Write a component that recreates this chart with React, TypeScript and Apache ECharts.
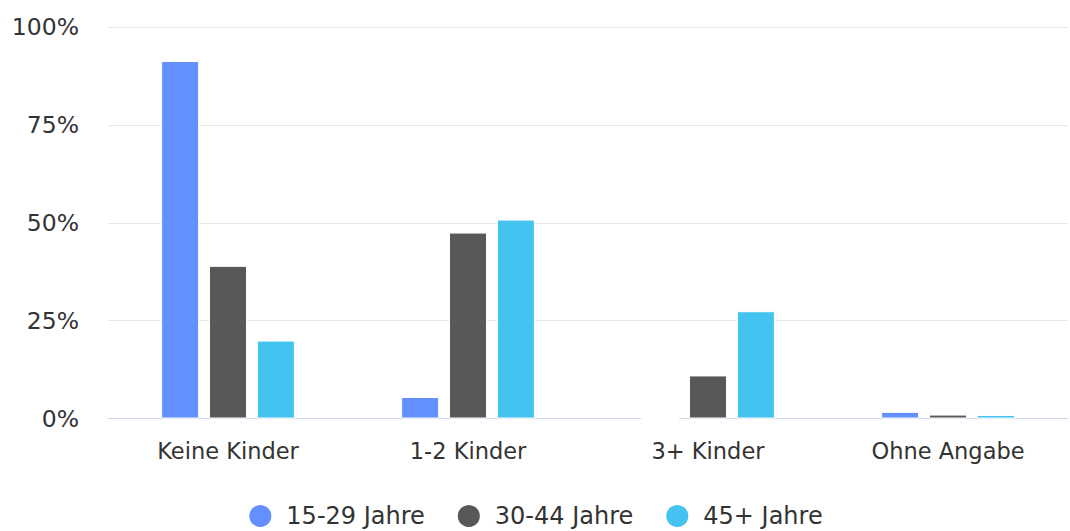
import React, { useEffect, useRef } from "react";
import * as echarts from "echarts";

const categories = ["Keine Kinder", "1-2 Kinder", "3+ Kinder", "Ohne Angabe"];
const seriesNames = ["15-29 Jahre", "30-44 Jahre", "45+ Jahre"];
const values1529 = [91.3, 5.5, 0, 1.7];
const values3044 = [39.0, 47.5, 11.0, 1.0];
const values45 = [19.9, 50.8, 27.4, 0.9];
const colors = ["#638FFF", "#58585A", "#45C3F0"];
const yTicks = [0, 25, 50, 75, 100];

export default function App() {
  const ref = useRef<HTMLDivElement>(null);
  useEffect(() => {
    if (!ref.current) return;
    const chart = echarts.init(ref.current, undefined, { renderer: "svg" });
    const font = "DejaVu Sans";
    const data = [values1529, values3044, values45];
    chart.setOption({
      animation: false,
      textStyle: { fontFamily: font },
      grid: { left: 108, right: 2, top: 27, bottom: 112.5, containLabel: false },
      legend: {
        bottom: -3,
        left: "center",
        icon: "circle",
        itemWidth: 42,
        itemHeight: 24,
        itemGap: 31,
        textStyle: { fontSize: 24, color: "#333333", fontFamily: font },
        data: seriesNames,
      },
      xAxis: {
        type: "category",
        data: categories,
        axisLine: { lineStyle: { color: "#ccd6eb", width: 1 } },
        axisTick: { show: false },
        axisLabel: { fontSize: 22.5, color: "#333333", margin: 21, fontFamily: font },
      },
      yAxis: {
        type: "value",
        min: yTicks[0],
        max: yTicks[yTicks.length - 1],
        interval: 25,
        axisLine: { show: false },
        axisTick: { show: false },
        splitLine: { lineStyle: { color: "#e6e6e6", width: 1 } },
        axisLabel: { fontSize: 23.5, color: "#333333", margin: 29, formatter: "{value}%", fontFamily: font },
      },
      series: seriesNames.map((name, i) => ({
        name,
        type: "bar",
        data: data[i],
        barWidth: 38,
        barGap: "26%",
        itemStyle: { color: colors[i], borderColor: "#ffffff", borderWidth: 1 },
      })),
    });
    return () => chart.dispose();
  }, []);
  return <div ref={ref} style={{ width: 1070, height: 531, position: "absolute", left: 0, top: 0 }} />;
}
